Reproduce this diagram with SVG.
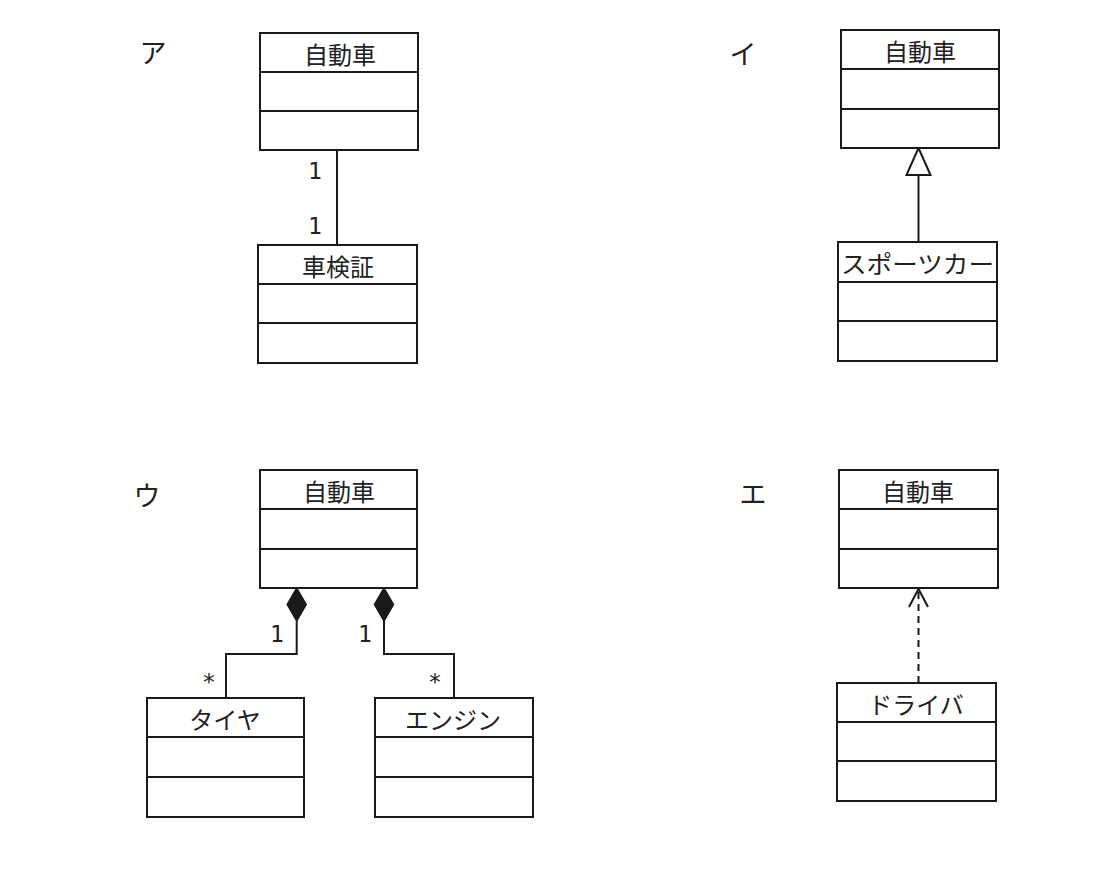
<svg xmlns="http://www.w3.org/2000/svg" width="1100" height="880" viewBox="0 0 1100 880">
<style>
.box{fill:#fff;stroke:#1a1a1a;stroke-width:2}
.div{stroke:#1a1a1a;stroke-width:2}
.name{font-family:"Noto Sans CJK JP",sans-serif;font-size:24px;fill:#222;text-anchor:middle;dominant-baseline:central}
.lbl{font-family:"Noto Sans CJK JP",sans-serif;font-size:27px;fill:#222;text-anchor:middle;dominant-baseline:central}
.mul{font-family:"DejaVu Sans Mono",monospace;font-size:23px;fill:#222;text-anchor:middle;dominant-baseline:central}
.ln{fill:none;stroke:#1a1a1a;stroke-width:2}
.dash{fill:none;stroke:#1a1a1a;stroke-width:2;stroke-dasharray:7,5}
.dia{fill:#1a1a1a;stroke:#1a1a1a;stroke-width:1.5}
.tri{fill:#fff;stroke:#1a1a1a;stroke-width:2}
</style>
<rect width="1100" height="880" fill="#fff"/>

<g id="labels">
<text class="lbl" x="153" y="51">ア</text>
<text class="lbl" x="743" y="52">イ</text>
<text class="lbl" x="147" y="494">ウ</text>
<text class="lbl" x="753" y="492">エ</text>
</g>

<g id="connectors">
<line class="ln" x1="337" y1="150" x2="337" y2="245"/>
<polygon class="tri" points="918.5,148 906.5,175 930.5,175"/>
<line class="ln" x1="918.5" y1="175" x2="918.5" y2="242"/>
<polygon class="dia" points="296.7,588 306.2,604.5 296.7,621 287.2,604.5"/>
<polyline class="ln" points="296.7,621 296.7,654 226,654 226,698"/>
<polygon class="dia" points="384,588 393.5,604.5 384,621 374.5,604.5"/>
<polyline class="ln" points="384,621 384,654 454,654 454,698"/>
<line class="dash" x1="918.5" y1="592" x2="918.5" y2="683"/>
<polyline class="ln" points="909,607 918.5,589 928,607"/>
<text class="mul" x="315" y="171">1</text>
<text class="mul" x="315" y="226">1</text>
<text class="mul" x="277" y="634">1</text>
<text class="mul" x="365" y="634">1</text>
<text class="mul" x="209" y="682">*</text>
<text class="mul" x="435" y="682">*</text>
</g>

<g id="a-car">
<rect class="box" x="260" y="33" width="158" height="117"/>
<line class="div" x1="260" y1="72" x2="418" y2="72"/>
<line class="div" x1="260" y1="111" x2="418" y2="111"/>
<text class="name" x="340" y="53">自動車</text>
</g>
<g id="a-shaken">
<rect class="box" x="258" y="245" width="159" height="118"/>
<line class="div" x1="258" y1="284" x2="417" y2="284"/>
<line class="div" x1="258" y1="323" x2="417" y2="323"/>
<text class="name" x="338" y="265">車検証</text>
</g>

<g id="i-car">
<rect class="box" x="841" y="30" width="158" height="118"/>
<line class="div" x1="841" y1="69" x2="999" y2="69"/>
<line class="div" x1="841" y1="109" x2="999" y2="109"/>
<text class="name" x="920" y="50">自動車</text>
</g>
<g id="i-sportscar">
<rect class="box" x="838" y="242" width="159" height="119"/>
<line class="div" x1="838" y1="282" x2="997" y2="282"/>
<line class="div" x1="838" y1="321" x2="997" y2="321"/>
<text class="name" x="917.5" y="262" textLength="153" lengthAdjust="spacingAndGlyphs">スポーツカー</text>
</g>

<g id="u-car">
<rect class="box" x="260" y="470" width="157" height="118"/>
<line class="div" x1="260" y1="509" x2="417" y2="509"/>
<line class="div" x1="260" y1="549" x2="417" y2="549"/>
<text class="name" x="339" y="490">自動車</text>
</g>
<g id="u-tire">
<rect class="box" x="147" y="698" width="157" height="119"/>
<line class="div" x1="147" y1="737" x2="304" y2="737"/>
<line class="div" x1="147" y1="777" x2="304" y2="777"/>
<text class="name" x="225" y="718">タイヤ</text>
</g>
<g id="u-engine">
<rect class="box" x="375" y="698" width="158" height="119"/>
<line class="div" x1="375" y1="737" x2="533" y2="737"/>
<line class="div" x1="375" y1="777" x2="533" y2="777"/>
<text class="name" x="453" y="718">エンジン</text>
</g>

<g id="e-car">
<rect class="box" x="839" y="470" width="159" height="118"/>
<line class="div" x1="839" y1="509" x2="998" y2="509"/>
<line class="div" x1="839" y1="549" x2="998" y2="549"/>
<text class="name" x="918" y="490">自動車</text>
</g>
<g id="e-driver">
<rect class="box" x="837" y="683" width="159" height="118"/>
<line class="div" x1="837" y1="722" x2="996" y2="722"/>
<line class="div" x1="837" y1="761" x2="996" y2="761"/>
<text class="name" x="916" y="703">ドライバ</text>
</g>
</svg>
